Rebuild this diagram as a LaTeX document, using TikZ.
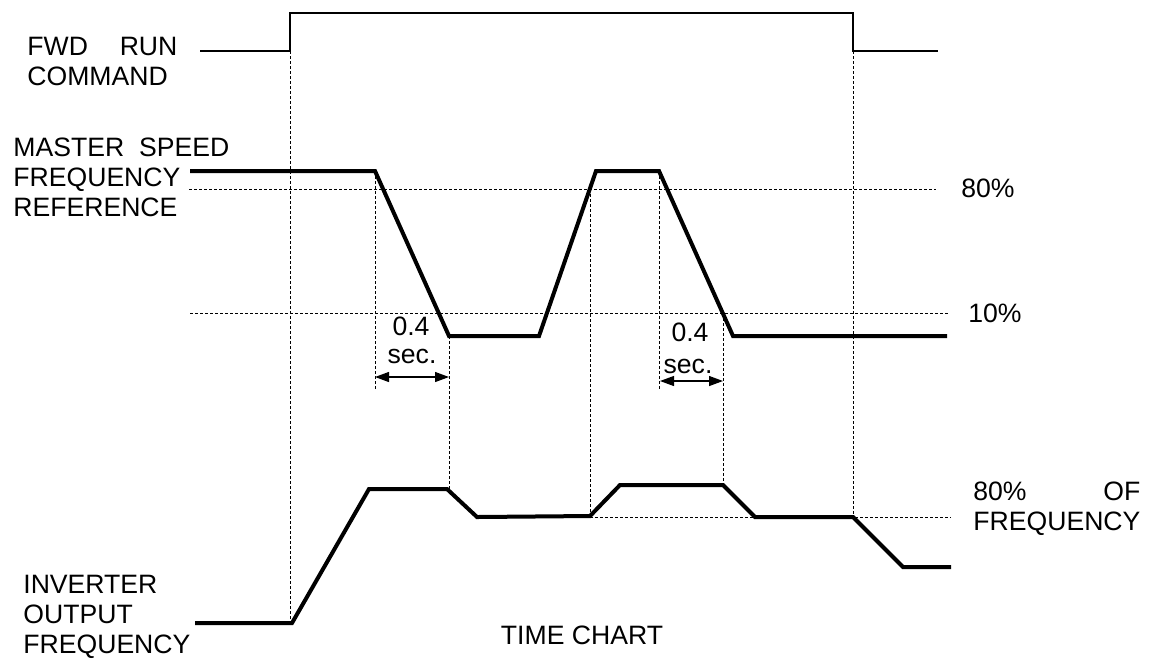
\documentclass[tikz,border=0pt]{standalone}
\usepackage{fontspec}
\setmainfont{Liberation Sans}
\usetikzlibrary{arrows.meta}

\begin{document}
\begin{tikzpicture}[x=0.5pt,y=-0.5pt,line join=miter,
  font=\fontsize{13.3}{15}\selectfont,
  wave/.style={line width=2pt},
  cmd/.style={line width=0.9pt},
  guide/.style={line width=0.5pt,dash pattern=on 1.5pt off 1pt},
  span/.style={line width=0.6pt,{Triangle[length=7pt,width=5pt]}-{Triangle[length=7pt,width=5pt]}},
  lbl/.style={inner sep=0pt,anchor=west,align=left},
  tag/.style={inner sep=0pt}]
\useasboundingbox (0,0) rectangle (1154,660);
% level guides
\draw[guide] (189,189) -- (936,189);
\draw[guide] (190,313) -- (950,313);
\draw[guide] (590,517) -- (951,517);
% time markers
\draw[guide] (290,51) -- (290,623);
\draw[guide] (375,171) -- (375,390);
\draw[guide] (449,336) -- (449,489);
\draw[guide] (590,189) -- (590,517);
\draw[guide] (659,171) -- (659,389);
\draw[guide] (723,313) -- (723,485);
\draw[guide] (853,51) -- (853,517);
% fwd run command
\draw[cmd] (200,51) -- (290,51) -- (290,13) -- (853,13) -- (853,51) -- (938,51);
% master speed frequency reference
\draw[wave] (190,171) -- (375,171) -- (449,336) -- (539,336) -- (596,171)
  -- (659,171) -- (733,336) -- (947,336);
% inverter output frequency
\draw[wave] (195,623) -- (292,623) -- (369,489) -- (447,489) -- (477,517)
  -- (590,516) -- (620,485) -- (723,485) -- (755,517) -- (853,517)
  -- (903,567) -- (951,567);
% 0.4 sec spans
\coordinate (spanAl) at (375,377);
\coordinate (spanAr) at (449,377);
\coordinate (spanBl) at (660,381);
\coordinate (spanBr) at (723,381);
\draw[span] (spanAl) -- (spanAr);
\draw[span] (spanBl) -- (spanBr);
\node[tag] (secAnum) at (411,326) {0.4};
\node[tag] (secAunit) at (412,356) {sec.};
\node[tag] (secBnum) at (690,332) {0.4};
\node[tag] (secBunit) at (688,366) {sec.};
% labels
\node[lbl,text width=75pt] (fwd) at (27,61) {FWD\hfill RUN\\COMMAND};
\node[lbl,text width=108pt] (master) at (13,177) {MASTER\hfill SPEED\\FREQUENCY\\REFERENCE};
\node[lbl] (inv) at (23,617) {INVERTER\\OUTPUT\\FREQUENCY};
\node (hi) at (988,188) {80\%};
\node (lo) at (995,313) {10\%};
\node[lbl,text width=83.5pt] (outlvl) at (973,509) {80\%\hfill OF\\FREQUENCY};
\node (title) at (582,635) {TIME CHART};
\end{tikzpicture}
\end{document}
